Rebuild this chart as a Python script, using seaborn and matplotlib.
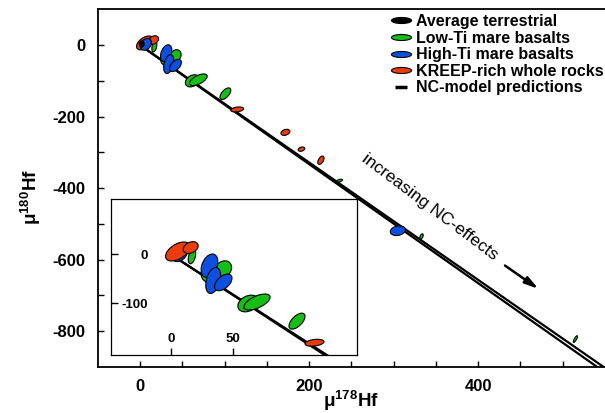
import numpy as np
import matplotlib
matplotlib.use('Agg')
import matplotlib.pyplot as plt
import seaborn as sns
from matplotlib.patches import Ellipse
from matplotlib.lines import Line2D
from matplotlib.path import Path
from matplotlib.transforms import Affine2D

# --- data (mu178Hf, mu180Hf, half-extents, correlation) ---
terr_x = [2]
terr_y = [3]
terr_sx = [3]
terr_sy = [8.5]
terr_rho = [0.0]

lowti_x = [17, 42, 31, 62, 69, 101, 236, 333, 515]
lowti_y = [-4, -30, -42, -100, -97, -136, -379, -535, -822]
lowti_sx = [3.0, 6.7, 6.5, 8.3, 10.5, 6.4, 3.5, 2.0, 2.5]
lowti_sy = [15, 17, 15, 17, 16.3, 16.3, 4, 7.4, 9.3]
lowti_rho = [0.4, 0.2, 0.0, 0.3, 0.6, 0.6, 0.5, 0.5, 0.8]

highti_x = [7, 31, 34, 42, 305]
highti_y = [2, -23, -53, -57, -519]
highti_sx = [6.5, 6.7, 6.0, 7.0, 9.0]
highti_sy = [16.5, 23.8, 26.5, 17, 13.5]
highti_rho = [0.3, 0.35, 0.35, 0.5, 0.2]

kreep_x = [5.6, 16, 115, 172, 191, 214]
kreep_y = [6, 14, -180, -244, -291, -322]
kreep_sx = [9.7, 6.0, 7.6, 5.3, 4.0, 3.7]
kreep_sy = [19.4, 12, 7, 8.5, 6, 11.6]
kreep_rho = [0.5, 0.3, 0.3, 0.3, 0.3, 0.5]

# NC-model prediction lines (two model curves)
model_x = [0, 560]
model_a = [0, -932]
model_b = [0, -919]

c_terr = 'black'
c_low = '#14be14'
c_high = '#0b50e0'
c_kreep = '#eb3c0a'

sns.set_style('ticks')
plt.rcParams['font.family'] = ['Liberation Sans', 'DejaVu Sans']
plt.rcParams['mathtext.fontset'] = 'custom'
plt.rcParams['mathtext.rm'] = 'Liberation Sans'
plt.rcParams['mathtext.bf'] = 'Liberation Sans:bold'
plt.rcParams['axes.unicode_minus'] = False
for key in ['text.color', 'axes.labelcolor', 'xtick.color', 'ytick.color', 'axes.edgecolor']:
    plt.rcParams[key] = 'black'


def draw_ellipses(ax, xs, ys, sxs, sys_, rhos, color, z):
    for x, y, sx, sy, r in zip(xs, ys, sxs, sys_, rhos):
        cov = np.array([[sx * sx, r * sx * sy], [r * sx * sy, sy * sy]])
        vals, vecs = np.linalg.eigh(cov)
        ang = np.degrees(np.arctan2(vecs[1, 1], vecs[0, 1]))
        ax.add_patch(Ellipse((x, y), 2 * np.sqrt(vals[1]), 2 * np.sqrt(vals[0]),
                             angle=ang, facecolor=color, edgecolor='black',
                             linewidth=0.8, zorder=z))


def draw_model(ax, lw):
    sns.lineplot(x=model_x, y=model_a, ax=ax, color='black', lw=lw, zorder=1)
    sns.lineplot(x=model_x, y=model_b, ax=ax, color='black', lw=lw, zorder=1)


fig = plt.figure(figsize=(6.05, 4.13), dpi=100)
ax = fig.add_axes([0.1615, 0.1114, 0.8385, 0.8661])

draw_model(ax, 1.6)
draw_ellipses(ax, lowti_x, lowti_y, lowti_sx, lowti_sy, lowti_rho, c_low, 2)
draw_ellipses(ax, kreep_x, kreep_y, kreep_sx, kreep_sy, kreep_rho, c_kreep, 3)
draw_ellipses(ax, highti_x, highti_y, highti_sx, highti_sy, highti_rho, c_high, 4)
draw_ellipses(ax, terr_x, terr_y, terr_sx, terr_sy, terr_rho, c_terr, 5)

ax.set_xlim(-50, 550)
ax.set_ylim(-900, 100)
ax.set_xticks(np.arange(0, 501, 50))
ax.set_xticklabels(['0', '', '', '', '200', '', '', '', '400', '', ''])
ax.set_yticks(np.arange(-800, 1, 100))
ax.set_yticklabels(['-800', '', '-600', '', '-400', '', '-200', '', '0'])
ax.tick_params(direction='in', length=4.5, width=1, labelsize=12, color='black')
ax.tick_params(axis='y', pad=9)
ax.tick_params(axis='x', pad=9)
for lab in ax.get_xticklabels() + ax.get_yticklabels():
    lab.set_fontweight('bold')
for s in ['left', 'top', 'bottom']:
    ax.spines[s].set_linewidth(1.3)
ax.spines['right'].set_visible(False)

ax.set_xlabel(r'$\mathbf{μ^{178}Hf}$', fontsize=13.5, labelpad=-4)
ax.set_ylabel(r'$\mathbf{μ^{180}Hf}$', fontsize=13.5)
ax.yaxis.set_label_coords(-0.108, 0.475)

# annotation along the model lines
ax.text(343, -452, 'increasing NC-effects', rotation=-37, rotation_mode='anchor',
        ha='center', va='center', fontsize=12.5)
ax.annotate('', xy=(474, -686), xytext=(429, -612),
            arrowprops=dict(arrowstyle='-|>,head_length=0.8,head_width=0.22',
                            color='black', lw=1.8))

# legend
flat = Path.unit_circle().transformed(Affine2D().scale(1, 0.3))
handles = [
    Line2D([], [], ls='none', marker=flat, markersize=14.5, mfc=c, mec='black', mew=0.8)
    for c in [c_terr, c_low, c_high, c_kreep]
]
handles.append(Line2D([], [], ls='none', marker='_', markersize=9, mec='black', mew=2.5))
labels = ['Average terrestrial', 'Low-Ti mare basalts', 'High-Ti mare basalts',
          'KREEP-rich whole rocks', 'NC-model predictions']
fig.legend(handles, labels, loc='upper left', bbox_to_anchor=(382 / 605, 1 - 6 / 413),
           frameon=False, borderpad=0, handlelength=1.35, handletextpad=0.25,
           labelspacing=0.1, prop={'weight': 'bold', 'size': 11.5})

# inset zoom on the lunar data cluster
axin = fig.add_axes([110.7 / 605, 1 - 355 / 413, 246.3 / 605, 156 / 413])
axin.set_facecolor('white')
draw_model(axin, 1.6)
draw_ellipses(axin, lowti_x, lowti_y, lowti_sx, lowti_sy, lowti_rho, c_low, 2)
draw_ellipses(axin, highti_x, highti_y, highti_sx, highti_sy, highti_rho, c_high, 3)
draw_ellipses(axin, terr_x, terr_y, terr_sx, terr_sy, terr_rho, c_terr, 4)
draw_ellipses(axin, kreep_x, kreep_y, kreep_sx, kreep_sy, kreep_rho, c_kreep, 5)
axin.set_xlim(-48, 149)
axin.set_ylim(-205, 113)
axin.set_xticks([0, 50])
axin.set_xticklabels(['0', '50'])
axin.set_yticks([-100, 0])
axin.set_yticklabels(['-100', '0'])
axin.tick_params(direction='in', length=5, width=1, labelsize=9.5, color='black')
axin.tick_params(axis='y', pad=-27)
axin.tick_params(axis='x', pad=-15.5)
for lab in axin.get_xticklabels() + axin.get_yticklabels():
    lab.set_fontweight('bold')
for s in axin.spines.values():
    s.set_linewidth(0.9)
axin.set_xlabel('')
axin.set_ylabel('')

fig.savefig('out.png', dpi=100)
